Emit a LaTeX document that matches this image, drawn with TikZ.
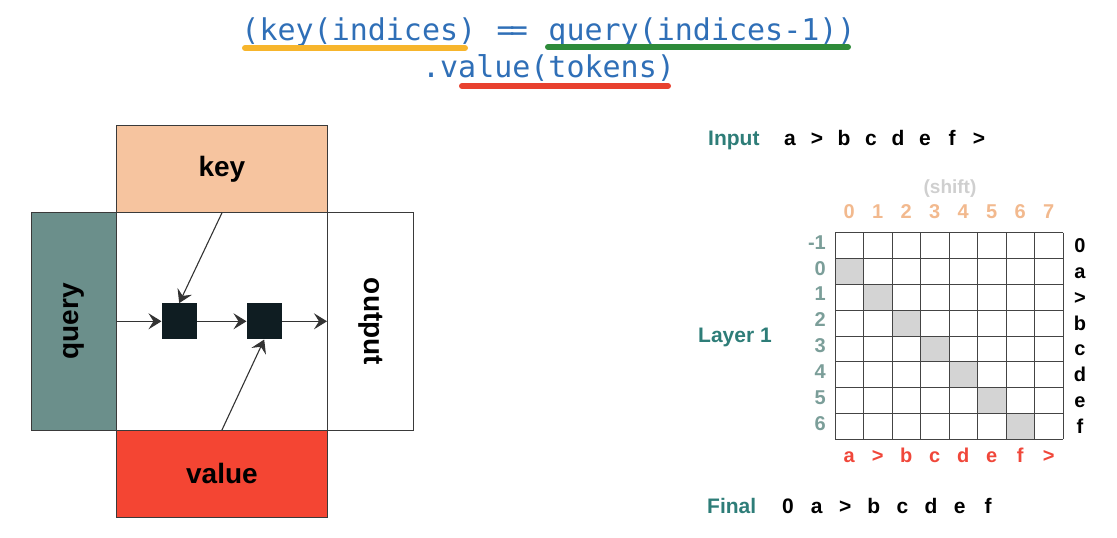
\documentclass[tikz,border=0pt]{standalone}
\usepackage{fontspec}
\setmainfont{Liberation Sans}
\newfontfamily\codefont{DejaVu Sans Mono}
\usetikzlibrary{arrows.meta}
\definecolor{codeblue}{HTML}{2F6FB7}
\definecolor{ulyellow}{HTML}{F7B52C}
\definecolor{ulgreen}{HTML}{2E8B3A}
\definecolor{ulred}{HTML}{E8412F}
\definecolor{keyfill}{HTML}{F6C49F}
\definecolor{queryfill}{HTML}{6B8F8B}
\definecolor{valuefill}{HTML}{F44533}
\definecolor{sqfill}{HTML}{0F1D22}
\definecolor{tealtext}{HTML}{2E7D78}
\definecolor{rowtext}{HTML}{7B9E99}
\definecolor{peachtext}{HTML}{F2B98E}
\definecolor{shiftgrey}{HTML}{CFCFCF}
\definecolor{redtext}{HTML}{F0473A}
\definecolor{cellgrey}{HTML}{D4D4D4}
\definecolor{gridclr}{HTML}{444444}
\definecolor{boxline}{HTML}{3A3A3A}
\definecolor{lineclr}{HTML}{333333}
\newcommand{\eqeq}{\kern0.08em=\kern-0.16em=\kern0.08em}
\begin{document}
\begin{tikzpicture}[x=1pt,y=-1pt,
  box/.style={draw=boxline, line width=0.9pt, inner sep=0pt, anchor=north west},
  biglbl/.style={font=\fontsize{28}{32}\selectfont\bfseries, text=black},
  blk/.style={fill=sqfill, draw=none, minimum width=35pt, minimum height=36pt, inner sep=0pt},
  arr/.style={draw=lineclr, line width=1.1pt, -{Stealth[length=13pt,width=16pt,inset=5pt]}},
  codetxt/.style={font=\fontsize{30}{34}\selectfont\codefont, text=codeblue, inner sep=0pt, anchor=base},
  uline/.style={line width=6pt, line cap=round},
  rlbl/.style={font=\fontsize{20}{24}\selectfont\bfseries, inner sep=0pt},
  cellrow/.style={rlbl, text height=0.72em, text depth=0pt},
  rowbase/.style={font=\fontsize{21}{25}\selectfont\bfseries, inner sep=0pt, anchor=base},
  gridln/.style={draw=gridclr, line width=0.9pt}
]
\useasboundingbox (0,0) rectangle (1117,538);

% ---------- code heading ----------
\node[codetxt] (code1) at (548.5,40) {(key(indices) \eqeq{} query(indices-1))};
\node[codetxt] (code2) at (548.5,77) {.value(tokens)};
\draw[uline, ulyellow] (245,48) -- (465,48);
\draw[uline, ulgreen] (548,47) -- (848,47);
\draw[uline, ulred] (462,86) -- (668,86);

% ---------- left diagram ----------
\node[box, minimum width=211pt, minimum height=218pt] (center) at (116,212) {};
\node[box, fill=keyfill, minimum width=211pt, minimum height=87pt] (keybox) at (116,125) {};
\node[box, fill=queryfill, minimum width=85pt, minimum height=218pt] (querybox) at (31,212) {};
\node[box, minimum width=86pt, minimum height=218pt] (outbox) at (327,212) {};
\node[box, fill=valuefill, minimum width=211pt, minimum height=87pt] (valuebox) at (116,430) {};
\node[biglbl] (keylbl) at (keybox.center) {key};
\node[biglbl, rotate=90] (querylbl) at (querybox.center) {query};
\node[biglbl, rotate=-90] (outlbl) at (outbox.center) {output};
\node[biglbl] (valuelbl) at (valuebox.center) {value};

\node[blk] (sq1) at (179.2,321.3) {};
\node[blk] (sq2) at (264.2,321.3) {};

\draw[arr] (querybox.east |- sq1.west) -- (sq1.west);
\draw[arr] (sq1.east) -- (sq2.west);
\draw[arr] (sq2.east) -- (outbox.west |- sq2.east);
\draw[arr] (keybox.south) -- (sq1.north);
\draw[arr] (valuebox.north) -- (sq2.south);

% ---------- right side ----------
\node[rowbase, anchor=base west, text=tealtext] (inputlbl) at (708,145) {Input};
\foreach \t [count=\i from 0] in {a,>,b,c,d,e,f,>}
  \node[rowbase] (in\i) at (790+27*\i,145) {\t};

\node[font=\fontsize{19}{23}\selectfont\bfseries, text=shiftgrey, inner sep=0pt] (shiftlbl) at (950,189) {(shift)};
\foreach \t [count=\i from 0] in {0,...,7}
  \node[cellrow, text=peachtext] (col\i) at (849.25+28.5*\i,215) {\t};

% grid
\foreach \j in {0,...,6}
  \fill[cellgrey] (835+28.5*\j,258.53+25.83*\j) rectangle ++(28.5,25.83);
\foreach \i in {0,...,8}
  \draw[gridln] (835+28.5*\i,232.7) -- (835+28.5*\i,439.34);
\foreach \j in {0,...,8}
  \draw[gridln] (835,232.7+25.83*\j) -- (1063,232.7+25.83*\j);

\foreach \t [count=\j from 0] in {-1,0,1,2,3,4,5,6}
  \node[cellrow, anchor=east, text=rowtext] (rowl\j) at (826,245.6+25.83*\j) {\t};
\foreach \t [count=\j from 0] in {0,a,>,b,c,d,e,f}
  \node[rlbl, anchor=base, text=black] (rowr\j) at (1080,252.6+25.83*\j) {\t};
\foreach \t [count=\i from 0] in {a,>,b,c,d,e,f,>}
  \node[rlbl, anchor=base, text=redtext] (bot\i) at (849.25+28.5*\i,462) {\t};

\node[rowbase, anchor=base west, text=tealtext] (layerlbl) at (698,342) {Layer 1};

\node[rowbase, anchor=base west, text=tealtext] (finallbl) at (707,513) {Final};
\foreach \t [count=\i from 0] in {0,a,>,b,c,d,e,f}
  \node[rowbase] (fin\i) at (788+28.6*\i,513) {\t};
\end{tikzpicture}
\end{document}
